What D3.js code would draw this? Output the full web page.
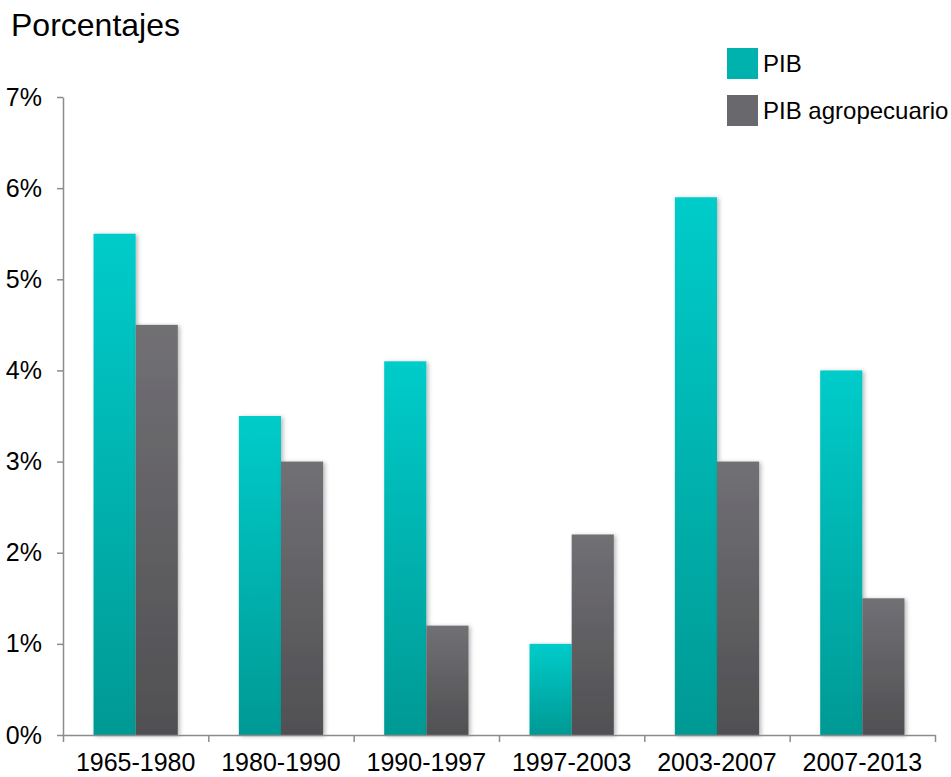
<!DOCTYPE html>
<html>
<head>
<meta charset="utf-8">
<script src="https://cdn.jsdelivr.net/npm/d3@7"></script>
<style>
  html, body { margin: 0; padding: 0; background: #fff; }
  svg { display: block; font-family: "Liberation Sans", Arial, sans-serif; }
</style>
</head>
<body>
<svg id="chart" width="951" height="777"></svg>
<script>
const categories = ["1965-1980", "1980-1990", "1990-1997", "1997-2003", "2003-2007", "2007-2013"];
const seriesNames = ["PIB", "PIB agropecuario"];
const pib = [5.5, 3.5, 4.1, 1.0, 5.9, 4.0];
const pibAgro = [4.5, 3.0, 1.2, 2.2, 3.0, 1.5];
const yTicks = [0, 1, 2, 3, 4, 5, 6, 7];

(function () {
const svg = d3.select("#chart");
const mLeft = 63, mRight = 935, mTop = 97, mBottom = 735;

const defs = svg.append("defs");
const grads = [
  { id: "gTeal", c0: "#00CCCA", c1: "#009994" },
  { id: "gGray", c0: "#717074", c1: "#505053" }
];
grads.forEach(g => {
  const lg = defs.append("linearGradient").attr("id", g.id)
    .attr("x1", 0).attr("y1", 0).attr("x2", 0).attr("y2", 1);
  lg.append("stop").attr("offset", "0%").attr("stop-color", g.c0);
  lg.append("stop").attr("offset", "100%").attr("stop-color", g.c1);
});
const f = defs.append("filter").attr("id", "shadow")
  .attr("x", "-20%").attr("y", "-10%").attr("width", "150%").attr("height", "130%");
f.append("feDropShadow").attr("dx", 2).attr("dy", 1).attr("stdDeviation", 2)
  .attr("flood-color", "#000").attr("flood-opacity", 0.28);

const y = d3.scaleLinear().domain([0, 7]).range([mBottom, mTop]);
const x0 = d3.scaleBand().domain(categories).range([mLeft, mRight])
  .paddingInner(0.42).paddingOuter(0.21);
const x1 = d3.scaleBand().domain(seriesNames).range([0, x0.bandwidth()]);
const xb = d3.scaleLinear().domain([0, categories.length]).range([mLeft, mRight]);

const data = categories.map((c, i) => ({ cat: c, vals: [
  { s: seriesNames[0], v: pib[i], fill: "url(#gTeal)" },
  { s: seriesNames[1], v: pibAgro[i], fill: "url(#gGray)" }
]}));

// bars
const groups = svg.append("g").selectAll("g").data(data).join("g")
  .attr("transform", d => `translate(${x0(d.cat)},0)`);
groups.selectAll("rect").data(d => d.vals).join("rect")
  .attr("x", d => x1(d.s))
  .attr("y", d => y(d.v))
  .attr("width", x1.bandwidth())
  .attr("height", d => y(0) - y(d.v))
  .attr("fill", d => d.fill)
  .attr("filter", "url(#shadow)");

// y axis
const yAxis = svg.append("g").attr("transform", `translate(${mLeft},0)`)
  .call(d3.axisLeft(y).tickValues(yTicks).tickSize(6).tickSizeOuter(0)
    .tickPadding(15).tickFormat(d => d + "%"));
yAxis.select(".domain").attr("stroke", "#8c8c8c").attr("stroke-width", 1.5);
yAxis.selectAll(".tick line").attr("stroke", "#8c8c8c").attr("stroke-width", 1.5);
yAxis.selectAll(".tick text").attr("font-size", 25).attr("fill", "#000")
  .attr("font-family", "Liberation Sans, Arial, sans-serif");

// x axis (boundary ticks)
const xAxis = svg.append("g").attr("transform", `translate(0,${mBottom})`)
  .call(d3.axisBottom(xb).tickValues(d3.range(categories.length + 1))
    .tickSize(7).tickSizeOuter(0).tickFormat(""));
xAxis.select(".domain").attr("stroke", "#8c8c8c").attr("stroke-width", 1.5);
xAxis.selectAll(".tick line").attr("stroke", "#8c8c8c").attr("stroke-width", 1.5);

// category labels
svg.append("g").selectAll("text").data(categories).join("text")
  .attr("x", d => x0(d) + x0.bandwidth() / 2)
  .attr("y", 771)
  .attr("text-anchor", "middle")
  .attr("font-size", 25)
  .attr("fill", "#000")
  .text(d => d);

// title
svg.append("text").attr("x", 11).attr("y", 36)
  .attr("font-size", 32).attr("fill", "#000").text("Porcentajes");

// legend
const legend = svg.append("g");
const legSolid = ["#00B2AE", "#69686C"];
seriesNames.forEach((s, i) => {
  const ly = 48 + i * 47;
  legend.append("rect").attr("x", 727).attr("y", ly).attr("width", 31).attr("height", 31)
    .attr("fill", legSolid[i]);
  legend.append("text").attr("x", 763).attr("y", ly + 24)
    .attr("font-size", 24).attr("fill", "#000").text(s);
});
})();
</script>
</body>
</html>
